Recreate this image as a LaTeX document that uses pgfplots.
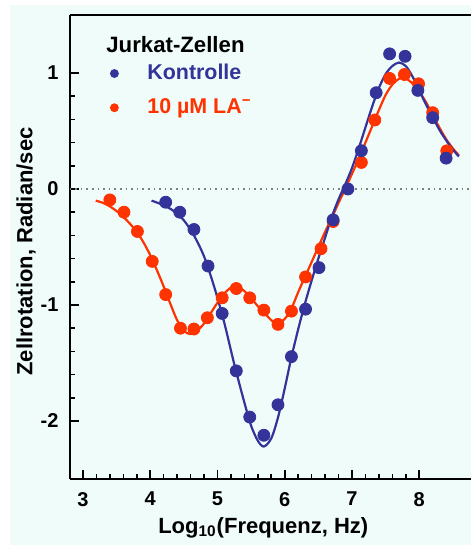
\documentclass[border=0pt]{standalone}
\usepackage{pgfplots}
\pgfplotsset{compat=1.18}
\usepackage{fontspec}
\setmainfont{Liberation Sans}
\definecolor{kblue}{HTML}{333399}
\definecolor{lred}{HTML}{FF3300}
\definecolor{bgc}{HTML}{F0FCFA}
\begin{document}
\begin{tikzpicture}
\fill[white] (-34.75pt,-33pt) rectangle (200.75pt,239.5pt);
\fill[bgc] (-29.75pt,-33pt) rectangle (200.75pt,237pt);
\begin{axis}[
  at={(0pt,0pt)}, anchor=south west,
  scale only axis, width=200.75pt, height=232pt,
  xmin=2.8, xmax=8.77, ymin=-2.5, ymax=1.5,
  axis x line*=bottom, axis y line*=left,
  axis line style={line width=1pt},
  xtick={3,4,5,6,7,8}, ytick={-2,-1,0,1},
  minor x tick num=4, minor y tick num=4,
  xtick pos=left, ytick pos=left,
  tick align=inside,
  major tick length=4.5pt, minor tick length=2.5pt,
  tick style={line width=0.8pt, black},
  /pgf/number format/assume math mode=true,
  xticklabel style={font=\fontsize{10}{12}\selectfont\bfseries, yshift=-3pt},
  yticklabel style={font=\fontsize{10}{12}\selectfont\bfseries, xshift=-2pt},
  xlabel={Log\textsubscript{10}(Frequenz, Hz)},
  ylabel={Zellrotation, Radian/sec},
  label style={font=\fontsize{11}{13}\selectfont\bfseries},
  xlabel style={at={(rel axis cs:0.4827,-0.1056)}, anchor=center},
  ylabel style={at={(rel axis cs:-0.1083,0.4903)}, anchor=center, rotate=0},
  clip=false,
  reverse legend,
  legend cell align=left,
  legend style={at={(rel axis cs:0.1009,0.899)}, anchor=north west,
    draw=none, fill=none, inner sep=0pt, row sep=6pt, column sep=0pt,
    font=\fontsize{10.7}{12.5}\selectfont\bfseries,
    nodes={inner xsep=0pt, inner ysep=1pt}},
  legend image code/.code={\path[draw=none,fill=none] (-2pt,0pt) -- (16.5pt,0pt); \draw[#1, mark size=2pt] plot coordinates {(0pt,0pt)};},
]
\addplot[gray, dotted, line width=0.8pt, forget plot] coordinates {(2.8,0) (8.77,0)};
% red fitted curve
\addplot[lred, line width=1.1pt, smooth, forget plot] coordinates {
(3.19,-0.10) (3.3,-0.12) (3.4,-0.15) (3.5,-0.19) (3.6,-0.24) (3.7,-0.30) (3.8,-0.37) (3.9,-0.46)
(4.0,-0.57) (4.1,-0.70) (4.2,-0.84) (4.3,-0.99) (4.4,-1.13) (4.5,-1.22) (4.59,-1.25) (4.7,-1.22)
(4.8,-1.16) (4.9,-1.07) (5.0,-0.98) (5.1,-0.90) (5.2,-0.85) (5.27,-0.83) (5.4,-0.88) (5.5,-0.94)
(5.6,-1.01) (5.7,-1.07) (5.8,-1.13) (5.88,-1.16) (6.0,-1.12) (6.1,-1.03) (6.2,-0.89) (6.3,-0.76)
(6.4,-0.63) (6.5,-0.50) (6.6,-0.37) (6.7,-0.25) (6.8,-0.12) (6.9,0.00) (7.0,0.13) (7.1,0.26)
(7.2,0.40) (7.3,0.54) (7.4,0.68) (7.5,0.81) (7.6,0.90) (7.7,0.95) (7.78,0.96) (7.9,0.91)
(8.0,0.84) (8.1,0.75) (8.2,0.64) (8.3,0.53) (8.4,0.43) (8.5,0.35) (8.59,0.29)};
% blue fitted curve
\addplot[kblue, line width=1.1pt, smooth, forget plot] coordinates {
(4.02,-0.10) (4.2,-0.14) (4.35,-0.19) (4.5,-0.27) (4.65,-0.40) (4.8,-0.58) (4.95,-0.84) (5.1,-1.15)
(5.25,-1.51) (5.4,-1.84) (5.5,-2.04) (5.6,-2.17) (5.69,-2.22) (5.8,-2.15) (5.9,-1.97) (6.0,-1.72)
(6.1,-1.45) (6.2,-1.21) (6.3,-0.99) (6.4,-0.79) (6.5,-0.60) (6.6,-0.42) (6.7,-0.24) (6.8,-0.09)
(6.9,0.04) (7.0,0.18) (7.1,0.35) (7.2,0.53) (7.3,0.71) (7.4,0.87) (7.5,0.99) (7.6,1.06)
(7.7,1.09) (7.8,1.06) (7.9,0.97) (8.0,0.85) (8.1,0.73) (8.2,0.62) (8.3,0.51) (8.4,0.42)
(8.5,0.34) (8.59,0.28)};
% red data
\addplot[only marks, mark=*, mark size=3pt, color=lred] coordinates {
(3.40,-0.094) (3.61,-0.200) (3.81,-0.366) (4.03,-0.624) (4.23,-0.910) (4.45,-1.200) (4.65,-1.207)
(4.85,-1.110) (5.07,-0.938) (5.28,-0.858) (5.48,-0.938) (5.69,-1.044) (5.90,-1.167) (6.10,-1.053)
(6.31,-0.758) (6.54,-0.515) (6.72,-0.280) (7.14,0.229) (7.34,0.595) (7.56,0.953) (7.78,0.987)
(7.99,0.907) (8.20,0.658) (8.41,0.329)};
\addlegendentry{\textcolor{lred}{10 µM LA\textsuperscript{−}}}
% blue data
\addplot[only marks, mark=*, mark size=3pt, color=kblue] coordinates {
(4.23,-0.114) (4.44,-0.200) (4.65,-0.349) (4.86,-0.664) (5.07,-1.073) (5.28,-1.568) (5.48,-1.966)
(5.69,-2.123) (5.90,-1.860) (6.10,-1.445) (6.31,-1.036) (6.51,-0.678) (6.72,-0.266) (6.94,0.000)
(7.14,0.330) (7.36,0.830) (7.56,1.165) (7.79,1.144) (7.98,0.850) (8.20,0.615) (8.40,0.266)};
\addlegendentry{\textcolor{kblue}{Kontrolle}}
\node[anchor=base west, inner sep=0pt, font=\fontsize{11.1}{13}\selectfont\bfseries] at (rel axis cs:0.0909,0.9188) {Jurkat-Zellen};
\draw[line width=1pt] (rel axis cs:0,1) -- (rel axis cs:1,1);
\end{axis}
\pgfresetboundingbox
\path[use as bounding box] (-34.75pt,-33pt) rectangle (200.75pt,239.5pt);
\end{tikzpicture}
\end{document}
